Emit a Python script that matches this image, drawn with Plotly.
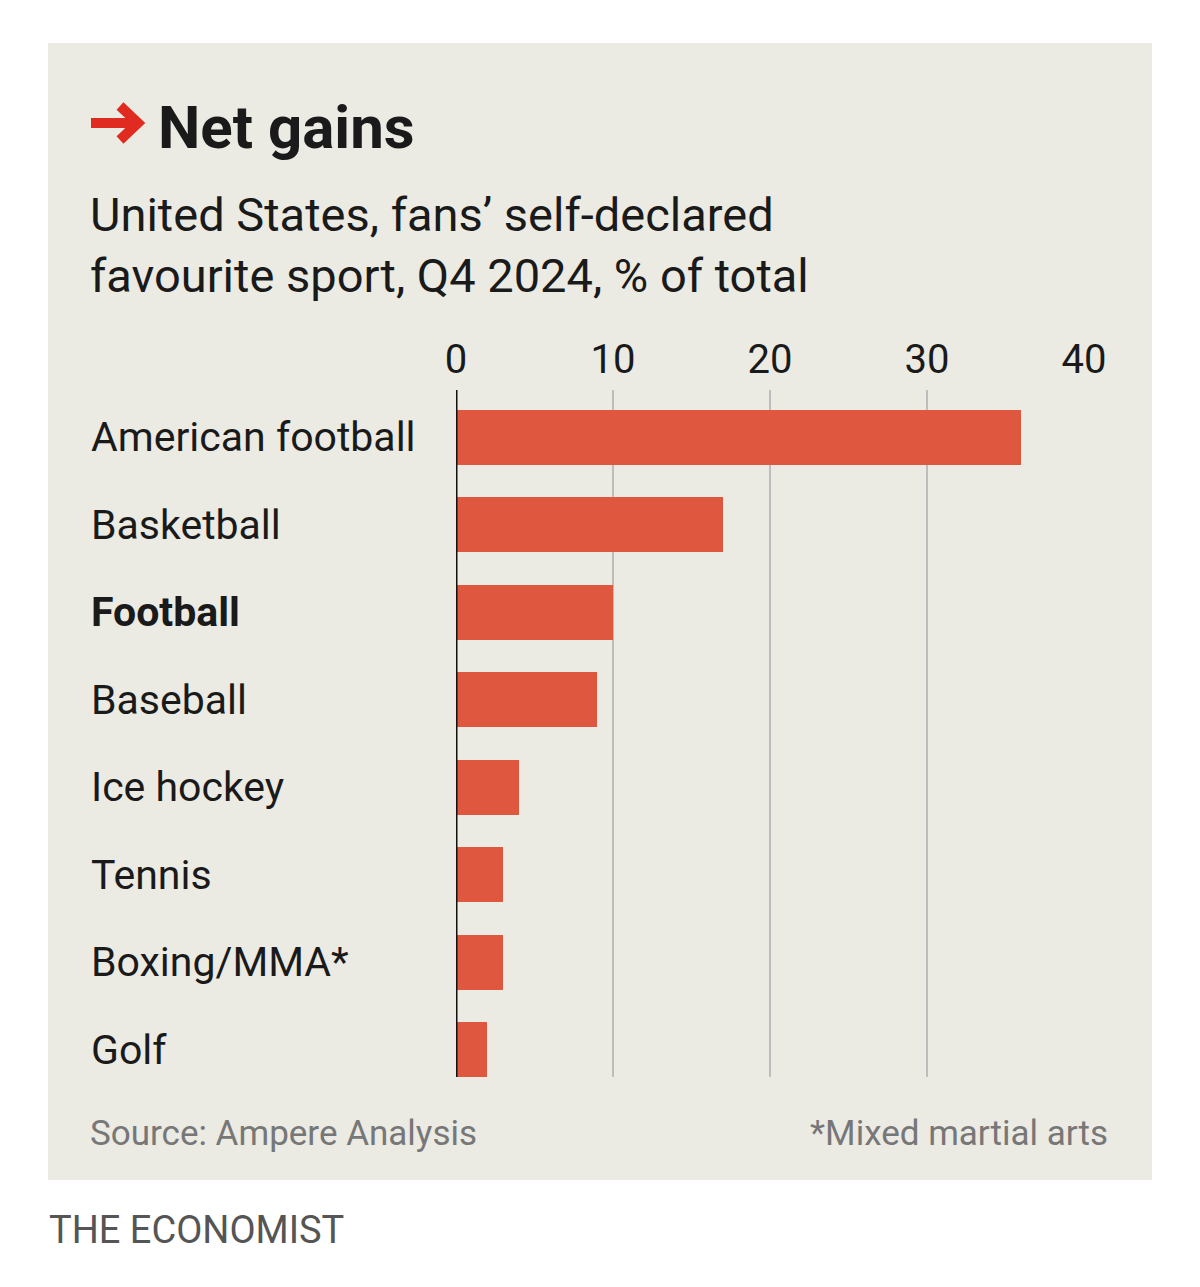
import plotly.graph_objects as go

categories = ["American football", "Basketball", "Football", "Baseball",
              "Ice hockey", "Tennis", "Boxing/MMA*", "Golf"]
values = [36, 17, 10, 9, 4, 3, 3, 2]
tick_vals = [0, 10, 20, 30, 40]
tick_text = ["0", "10", "20", "30", "40"]
bold_category = "Football"

OFF = 8  # page body margin
W, H = 1200 - 2 * OFF, 1287 - 2 * OFF
# plot area in reference (page) pixels
PL, PR, PT, PB = 456, 1084, 390, 1077
L, T = PL - OFF, PT - OFF
R = W - (PR - OFF)
B = H - (PB - OFF)
PW, PH = PR - PL, PB - PT

def px(x):
    return (x - PL) / PW

def py(y):
    return (PB - y) / PH

FONT = "Roboto, Liberation Sans, Arial, sans-serif"
TXT = "#1a1a1a"
BAR = "#e0573f"
BG = "#ebeae3"
RED = "#e02b20"

fig = go.Figure()
fig.add_trace(go.Bar(
    x=values, y=categories, orientation="h",
    marker=dict(color=BAR, line=dict(width=0)),
    width=0.63, hoverinfo="skip",
))

annotations = []
for c in categories:
    label = f"<b>{c}</b>" if c == bold_category else c
    annotations.append(dict(
        x=px(89), xref="paper", y=c, yref="y", text=label,
        xanchor="left", yanchor="middle", showarrow=False,
        font=dict(family=FONT, size=41, color=TXT),
    ))

annotations += [
    dict(x=px(156), y=py(127), xref="paper", yref="paper",
         text="<b>Net gains</b>",
         xanchor="left", yanchor="middle", showarrow=False,
         font=dict(family=FONT, size=60, color=TXT)),
    dict(x=px(88), y=py(245), xref="paper", yref="paper",
         text="United States, fans’ self-declared<br>favourite sport, Q4 2024, % of total",
         xanchor="left", yanchor="middle", showarrow=False, align="left",
         font=dict(family=FONT, size=47, color=TXT)),
    dict(x=px(88), y=py(1133), xref="paper", yref="paper",
         text="Source: Ampere Analysis",
         xanchor="left", yanchor="middle", showarrow=False,
         font=dict(family=FONT, size=35, color="#777777")),
    dict(x=px(1110), y=py(1133), xref="paper", yref="paper",
         text="*Mixed martial arts",
         xanchor="right", yanchor="middle", showarrow=False,
         font=dict(family=FONT, size=35, color="#777777")),
    dict(x=px(47), y=py(1230), xref="paper", yref="paper",
         text="THE ECONOMIST",
         xanchor="left", yanchor="middle", showarrow=False,
         font=dict(family=FONT, size=38, color="#555555")),
]

shapes = [
    dict(type="rect", xref="paper", yref="paper",
         x0=px(48), x1=px(1152), y0=py(1180), y1=py(43),
         fillcolor=BG, line=dict(width=0), layer="below"),
    dict(type="line", xref="x", yref="paper", x0=0, x1=0, y0=0, y1=1,
         line=dict(color="#111111", width=3), layer="above"),
    # red arrow before title
    dict(type="line", xref="paper", yref="paper",
         x0=px(91), x1=px(136), y0=py(123), y1=py(123),
         line=dict(color=RED, width=10)),
    dict(type="path", xref="paper", yref="paper",
         path=f"M {px(120)} {py(106)} L {px(138)} {py(123)} L {px(120)} {py(140)}",
         line=dict(color=RED, width=10)),
]

fig.update_layout(
    width=W, height=H,
    margin=dict(l=L, r=R, t=T, b=B, pad=0),
    paper_bgcolor="white", plot_bgcolor="rgba(0,0,0,0)",
    showlegend=False, bargap=0,
    xaxis=dict(range=[0, 40], side="top", tickvals=tick_vals, ticktext=tick_text,
               showgrid=True, gridcolor="#bdbdbd", gridwidth=1.5,
               zeroline=False, showline=False, ticks="", ticklabelstandoff=8,
               tickfont=dict(family=FONT, size=40, color=TXT), fixedrange=True),
    yaxis=dict(range=[7 + 27.5 / 87.5, -47.5 / 87.5], showticklabels=False,
               showgrid=False, zeroline=False, ticks="", fixedrange=True),
    annotations=annotations, shapes=shapes,
)

fig.write_html("out.html")
